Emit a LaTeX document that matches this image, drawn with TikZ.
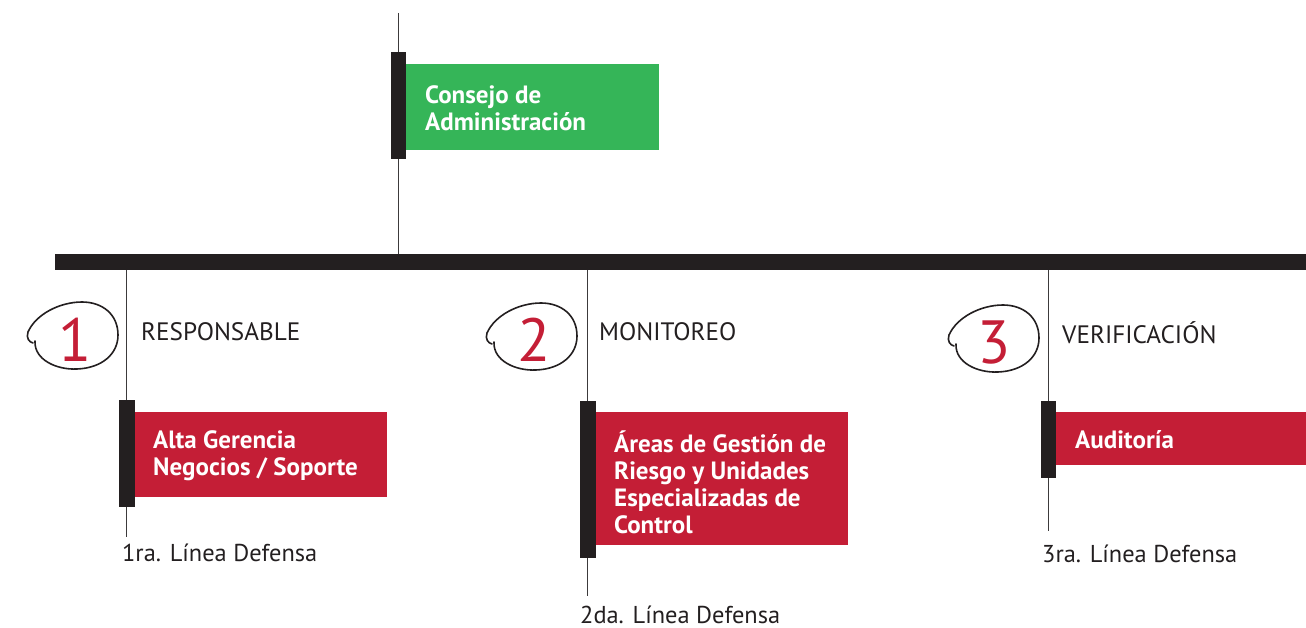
\documentclass[tikz,border=0pt]{standalone}
\usepackage{fontspec}
\setmainfont{PT Sans}
\definecolor{barblack}{HTML}{231F20}
\definecolor{linegray}{HTML}{3C3A3B}
\definecolor{boardgreen}{HTML}{35B558}
\definecolor{riskred}{HTML}{C41E36}
\tikzset{
  vline/.style={draw=linegray, line width=1.3pt},
  hbarstyle/.style={fill=barblack, draw=none, anchor=north west, inner sep=0pt, minimum width=1251pt, minimum height=16pt},
  barstyle/.style={fill=barblack, draw=none, anchor=north west, inner sep=0pt, minimum width=16pt},
  boxstyle/.style={draw=none, anchor=north west, inner sep=0pt},
  boxtext/.style={anchor=west, inner sep=0pt, align=left, text=white, font=\fontsize{25}{27}\selectfont\bfseries},
  roletext/.style={anchor=base west, inner sep=0pt, text=barblack, font=\fontsize{25.2}{30}\selectfont},
  linetext/.style={anchor=base west, inner sep=0pt, text=barblack, font=\fontsize{24.4}{30}\selectfont},
  numtext/.style={inner sep=0pt, text=riskred, font=\fontsize{61}{70}\selectfont},
  loopline/.style={draw=barblack, line width=1.6pt, line cap=round},
  handloop/.pic={\draw[loopline] (-37,5) .. controls (-38,24) and (-15,34) .. (5,33) .. controls (30,32) and (46,18) .. (46,-1) .. controls (46,-22) and (30,-34) .. (10,-34) .. controls (-12,-34) and (-36,-22) .. (-44,-4) .. controls (-46,2) and (-43,6) .. (-39,7);}
}
\begin{document}
\begin{tikzpicture}[x=1pt,y=-1pt]
\useasboundingbox (0,0) rectangle (1306,628);
% main horizontal bar
\node[hbarstyle] (hbar) at (55,254) {};
% board
\coordinate (top) at (398.5,13);
\draw[vline] (top) -- (top |- hbar.north);
\node[barstyle, minimum width=15pt, minimum height=107pt] (bar0) at (391,52) {};
\node[boxstyle, fill=boardgreen, minimum width=253pt, minimum height=86pt] (box0) at (406,64) {};
\node[boxtext] (t0) at ([xshift=19pt,yshift=-1pt]box0.west) {Consejo de\\Administración};
% line 1
\coordinate (end1) at (126.5,537);
\draw[vline] (hbar.south -| end1) -- (end1);
\node[barstyle, minimum height=107pt] (bar1) at (119,400) {};
\node[boxstyle, fill=riskred, minimum width=252pt, minimum height=85pt] (box1) at (135,412) {};
\node[boxtext] (t1) at ([xshift=18pt,yshift=-1pt]box1.west) {Alta Gerencia\\Negocios / Soporte};
\pic (loop1) at (72,336) {handloop};
\node[numtext] (n1) at (75,340) {1};
\node[roletext] (r1) at (141,340) {RESPONSABLE};
\node[linetext] (d1) at (122,561) {1ra. Línea Defensa};
% line 2
\coordinate (end2) at (587.5,596);
\draw[vline] (hbar.south -| end2) -- (end2);
\node[barstyle, minimum height=157pt] (bar2) at (580,401) {};
\node[boxstyle, fill=riskred, minimum width=252pt, minimum height=133pt] (box2) at (596,412) {};
\node[boxtext] (t2) at ([xshift=18pt,yshift=-4pt]box2.west) {Áreas de Gestión de\\Riesgo y Unidades\\Especializadas de\\Control};
\pic (loop2) at (531,337) {handloop};
\node[numtext] (n2) at (534,340) {2};
\node[roletext] (r2) at (599,340) {MONITOREO};
\node[linetext] (d2) at (580,623) {2da. Línea Defensa};
% line 3
\coordinate (end3) at (1048.5,531);
\draw[vline] (hbar.south -| end3) -- (end3);
\node[barstyle, minimum width=15pt, minimum height=77pt] (bar3) at (1041,401) {};
\node[boxstyle, fill=riskred, minimum width=250pt, minimum height=53pt] (box3) at (1056,412) {};
\node[boxtext] (t3) at ([xshift=19pt,yshift=-1pt]box3.west) {Auditoría};
\pic (loop3) at (993,339) {handloop};
\node[numtext] (n3) at (994,343) {3};
\node[roletext] (r3) at (1062,343) {VERIFICACIÓN};
\node[linetext] (d3) at (1042,562) {3ra. Línea Defensa};
\end{tikzpicture}
\end{document}
